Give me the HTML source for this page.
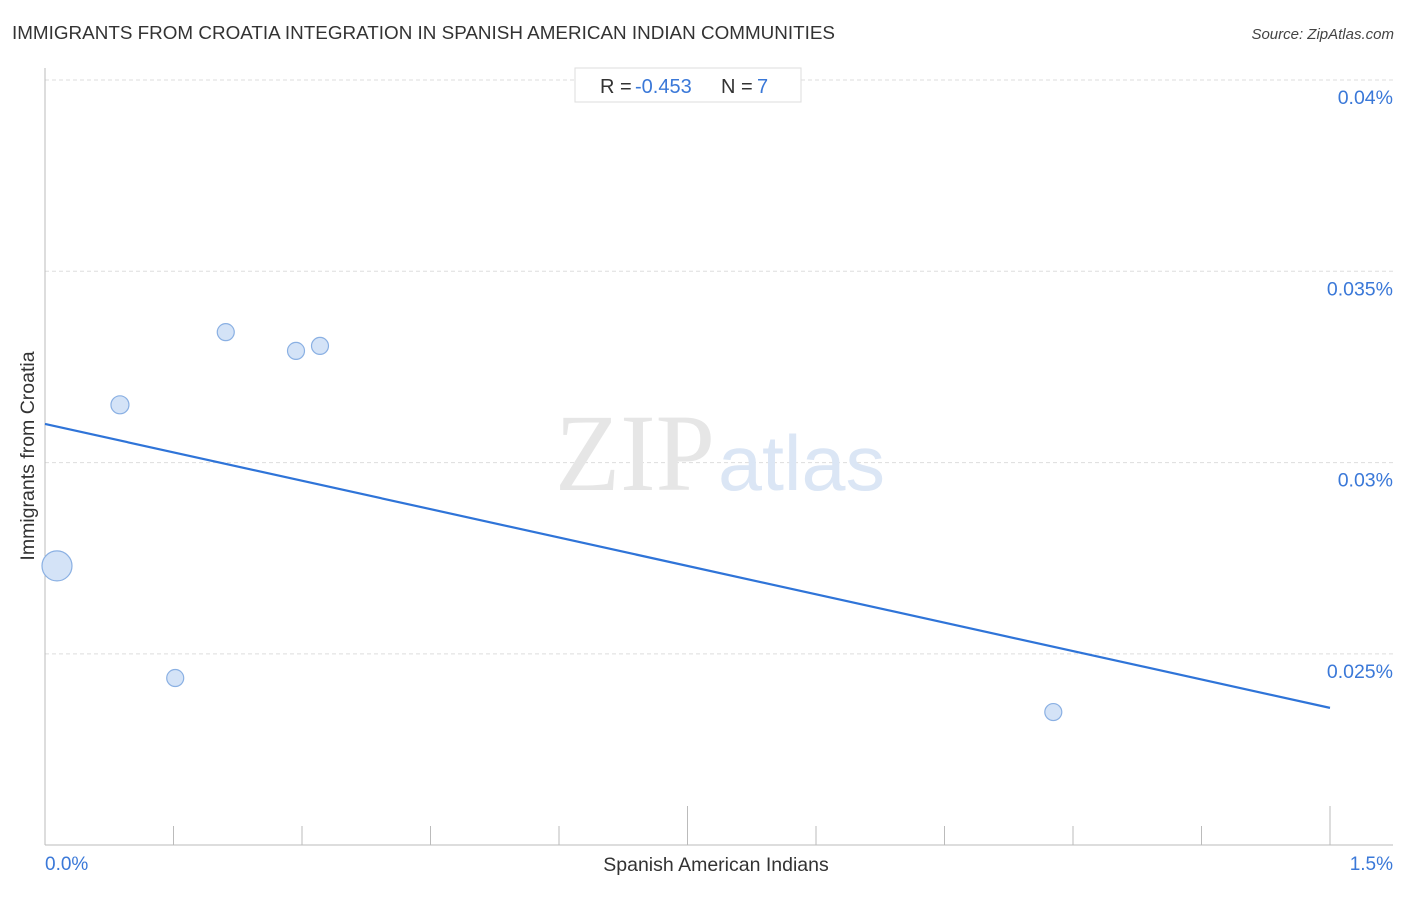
<!DOCTYPE html>
<html><head><meta charset="utf-8"><style>
body{margin:0;background:#fff;width:1406px;height:892px;overflow:hidden;font-family:"Liberation Sans",sans-serif}
</style></head><body>
<svg id="chart" width="1406" height="892" viewBox="0 0 1406 892">
<text x="12" y="39" font-size="18.5" fill="#333" textLength="823" lengthAdjust="spacingAndGlyphs">IMMIGRANTS FROM CROATIA INTEGRATION IN SPANISH AMERICAN INDIAN COMMUNITIES</text>
<text x="1394" y="39" font-size="15" fill="#444" font-style="italic" text-anchor="end">Source: ZipAtlas.com</text>
<g id="grid"></g>
<text x="555" y="490" font-size="110" fill="#e6e6e6" font-family="Liberation Serif,serif" textLength="160" lengthAdjust="spacingAndGlyphs">ZIP</text>
<text x="718" y="490" font-size="78" fill="#dbe6f5" textLength="167" lengthAdjust="spacingAndGlyphs">atlas</text>
<line x1="45" y1="68" x2="45" y2="845" stroke="#bbb"/>
<line x1="45" y1="845" x2="1393" y2="845" stroke="#bbb"/>
<g id="ticks"></g>
<g id="marks"></g>
<rect x="575" y="68" width="226" height="34" fill="#fff" stroke="#ddd"/>
<g font-size="20">
<text x="600" y="93" fill="#333">R =</text>
<text x="635" y="93" fill="#3a78d8">-0.453</text>
<text x="721" y="93" fill="#333">N =</text>
<text x="757" y="93" fill="#3a78d8">7</text>
</g>
<text x="45" y="870" font-size="19" fill="#3a78d8">0.0%</text>
<text x="1393" y="870" font-size="19" fill="#3a78d8" text-anchor="end">1.5%</text>
<text x="716" y="871" font-size="19.5" fill="#333" text-anchor="middle">Spanish American Indians</text>
<text transform="translate(34,456) rotate(-90)" font-size="19.5" fill="#333" text-anchor="middle">Immigrants from Croatia</text>
</svg>
<script>
const xVals=[0.014,0.0875,0.152,0.211,0.293,0.321,1.177];
const yVals=[0.0273,0.03151,0.02437,0.03341,0.03292,0.03305,0.02348];
const sizes=[15,9,8.5,8.5,8.5,8.5,8.5];
const yTicks=[0.04,0.035,0.03,0.025];
const yTickLabels=["0.04%","0.035%","0.03%","0.025%"];
const trendIntercept=0.03101;
const trendSlope=-0.004947;
const xMin=0,xMax=1.5;
const NS="http://www.w3.org/2000/svg";
function sx(v){return 45+(v-xMin)/(xMax-xMin)*1285;}
function sy(v){return 80+(0.04-v)/0.005*191.3;}
function mk(t,a,p){const e=document.createElementNS(NS,t);for(const k in a)e.setAttribute(k,a[k]);document.getElementById(p).appendChild(e);return e;}
yTicks.forEach((t,i)=>{
 const l=mk('line',{x1:45,x2:1393,y1:sy(t),y2:sy(t),stroke:'#ddd','stroke-dasharray':'4,3'},'grid');
 
 
 const tx=mk('text',{x:1393,y:sy(t)+24,'font-size':19.5,fill:'#3a78d8','text-anchor':'end'},'grid');
 tx.textContent=yTickLabels[i];
 
 
});
for(let i=0;i<=10;i++){
 const v=i*0.15,x=sx(v),major=(i==5||i==10);
 const l=mk('line',{x1:x,x2:x,y1:major?806:826,y2:845,stroke:'#bbb'},'ticks');
 
 
}
xVals.forEach((xv,i)=>{
 const c=mk('circle',{cx:sx(xv),cy:sy(yVals[i]),r:sizes[i],fill:'#d4e3f7',stroke:'#8ab0e3','stroke-width':1.2},'marks');
 
 
});
const tl=mk('line',{x1:sx(0),y1:sy(trendIntercept),x2:sx(1.5),y2:sy(trendIntercept+trendSlope*1.5),stroke:'#2f74d8','stroke-width':2.2},'marks');


</script>
</body></html>
